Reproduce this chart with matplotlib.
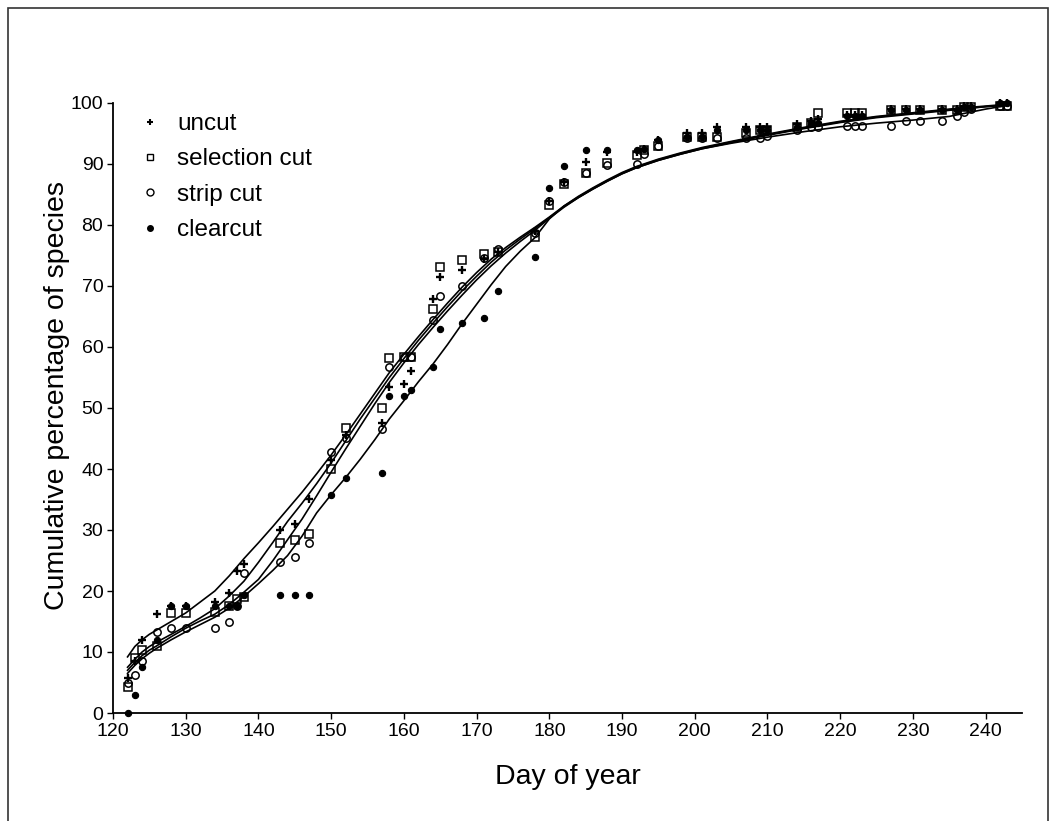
import matplotlib
matplotlib.use("Agg")
import matplotlib.pyplot as plt
from matplotlib.lines import Line2D
from matplotlib.patches import Rectangle

plt.rcParams['font.family'] = ['Liberation Sans', 'DejaVu Sans']

# ---------------- data ----------------
days = [122, 123, 124, 126, 128, 130, 134, 136, 137, 138, 143, 145, 147, 150, 152,
        157, 158, 160, 161, 164, 165, 168, 171, 173, 178, 180, 182, 185, 188, 192,
        193, 195, 199, 201, 203, 207, 209, 210, 214, 216, 217, 221, 222, 223, 227,
        229, 231, 234, 236, 237, 238, 242, 243]

uncut = [5.8, 8.5, 12.0, 16.2, 17.6, 17.6, 18.2, 19.6, 23.2, 24.4, 30.0, 31.0, 35.0, 41.5, 45.5,
         47.6, 53.4, 54.0, 56.0, 67.8, 71.4, 72.7, 74.5, 75.5, 79.0, 84.0, 87.0, 90.4, 92.0, 92.0,
         92.5, 94.0, 95.0, 95.0, 96.0, 96.0, 96.0, 96.0, 96.5, 97.0, 97.3, 98.0, 98.0, 98.0, 99.0,
         99.0, 99.0, 99.0, 99.0, 99.5, 99.5, 100.0, 100.0]

selection = [4.3, 9.0, 10.3, 11.0, 16.4, 16.4, 16.5, 17.5, 18.7, 19.0, 27.8, 28.4, 29.3, 40.0, 46.7,
             50.0, 58.2, 58.3, 58.3, 66.2, 73.1, 74.3, 75.2, 75.5, 78.0, 83.2, 86.7, 88.5, 90.2, 91.5,
             92.3, 93.0, 94.5, 94.5, 94.5, 95.0, 95.6, 95.6, 96.1, 96.7, 98.3, 98.3, 98.3, 98.3, 98.9,
             98.9, 98.9, 98.9, 98.9, 99.4, 99.4, 99.5, 99.5]

strip = [5.0, 6.3, 8.5, 13.3, 14.0, 14.0, 14.0, 14.9, 17.5, 23.0, 24.8, 25.6, 27.9, 42.8, 45.0,
         46.6, 56.7, 58.3, 58.3, 64.4, 68.3, 70.0, 74.6, 76.0, 78.7, 84.0, 87.0, 88.5, 89.8, 90.0,
         91.7, 93.0, 94.3, 94.3, 94.3, 94.3, 94.3, 94.6, 95.5, 96.0, 96.0, 96.3, 96.3, 96.3, 96.3,
         97.0, 97.0, 97.0, 97.8, 98.5, 99.0, 99.5, 99.5]

clearcut = [0.0, 3.0, 7.6, 12.0, 17.5, 17.5, 17.5, 17.5, 17.5, 19.3, 19.3, 19.3, 19.3, 35.8, 38.5,
            39.3, 52.0, 52.0, 53.0, 56.7, 62.9, 64.0, 64.7, 69.2, 74.7, 86.0, 89.6, 92.3, 92.3, 92.3,
            92.5, 94.0, 94.5, 94.5, 95.6, 95.6, 95.6, 95.6, 96.1, 96.7, 96.7, 97.8, 97.8, 97.8, 98.9,
            98.9, 98.9, 98.9, 98.9, 99.4, 99.4, 100.0, 100.0]

# fitted curves
fit_days = [122, 123, 124, 125, 126, 128, 130, 132, 134, 136, 138, 140, 142, 144, 146, 148,
            150, 152, 154, 156, 158, 160, 162, 164, 166, 168, 170, 172, 174, 176, 178, 180,
            182, 184, 186, 188, 190, 192, 195, 198, 201, 205, 210, 215, 220, 225, 230, 235,
            240, 243]

fit_uncut = [9.2, 10.9, 12.0, 12.9, 13.6, 15.0, 16.4, 18.2, 20.0, 22.5, 25.3, 27.9, 30.6, 33.4,
             36.2, 39.2, 42.3, 45.6, 49.0, 52.4, 55.8, 58.8, 61.7, 64.5, 67.2, 69.8, 72.2, 74.4,
             76.3, 78.0, 79.6, 81.3, 83.1, 84.6, 86.0, 87.3, 88.5, 89.5, 90.7, 91.7, 92.6, 93.6,
             94.8, 95.9, 96.9, 97.7, 98.3, 98.9, 99.4, 99.7]

fit_selection = [7.5, 8.8, 10.0, 10.9, 11.6, 12.9, 14.2, 15.6, 17.1, 19.2, 21.6, 24.7, 28.0,
                 31.4, 34.4, 37.6, 41.0, 44.6, 48.2, 51.6, 55.0, 58.1, 61.1, 63.9, 66.6, 69.2,
                 71.6, 73.9, 75.9, 77.7, 79.4, 81.2, 83.0, 84.5, 85.9, 87.2, 88.4, 89.4, 90.6,
                 91.6, 92.5, 93.5, 94.7, 95.8, 96.8, 97.6, 98.2, 98.8, 99.4, 99.7]

fit_strip = [7.0, 8.3, 9.4, 10.3, 11.0, 12.5, 13.9, 15.1, 16.2, 17.8, 19.8, 21.9, 25.0, 28.4,
             31.8, 35.6, 39.5, 43.3, 47.0, 50.7, 54.2, 57.4, 60.4, 63.2, 65.9, 68.5, 71.0, 73.3,
             75.4, 77.3, 79.1, 81.1, 82.9, 84.5, 85.9, 87.2, 88.4, 89.4, 90.6, 91.6, 92.5, 93.4,
             94.4, 95.3, 96.1, 96.7, 97.2, 97.8, 99.0, 99.6]

fit_clearcut = [6.5, 7.8, 8.9, 9.8, 10.6, 12.0, 13.3, 14.5, 15.7, 17.2, 19.1, 21.2, 23.4, 25.8,
                29.0, 32.8, 35.8, 38.6, 41.6, 44.8, 48.2, 51.2, 54.3, 57.2, 60.4, 63.8, 67.0,
                70.2, 73.2, 75.7, 77.9, 81.0, 83.1, 84.7, 86.1, 87.4, 88.6, 89.6, 90.8, 91.8,
                92.7, 93.7, 94.9, 96.0, 97.0, 97.8, 98.4, 99.0, 99.5, 99.8]

labels = ["uncut", "selection cut", "strip cut", "clearcut"]

# ---------------- figure ----------------
W, H = 1056, 821
fig = plt.figure(figsize=(W / 100, H / 100), dpi=100)
ax = fig.add_axes([113 / W, 1 - 713 / H, (1022 - 113) / W, (713 - 103) / H])

lw = 1.2
for fy in (fit_uncut, fit_selection, fit_strip, fit_clearcut):
    ax.plot(fit_days, fy, color='black', lw=lw, zorder=2)

ax.plot(days, uncut, ls='none', marker='+', ms=5.5, mew=1.7, color='black', clip_on=False, zorder=3)
ax.plot(days, selection, ls='none', marker='s', ms=5.3, mew=1.1, mfc='none', mec='black', clip_on=False, zorder=3)
ax.plot(days, strip, ls='none', marker='o', ms=5.3, mew=1.1, mfc='none', mec='black', clip_on=False, zorder=3)
ax.plot(days, clearcut, ls='none', marker='o', ms=4.5, mew=0.8, mfc='black', mec='black', clip_on=False, zorder=3)

ax.set_xlim(120, 245)
ax.set_ylim(0, 100)
ax.set_xticks(range(120, 241, 10))
ax.set_yticks(range(0, 101, 10))
for s in ('top', 'right'):
    ax.spines[s].set_visible(False)
for s in ('left', 'bottom'):
    ax.spines[s].set_linewidth(1.3)
ax.tick_params(direction='out', length=4, width=1.0, labelsize=14, pad=3)

ax.set_xlabel("Day of year", fontsize=20.5)
ax.xaxis.set_label_coords(0.5, (713 - 777) / 610)
ax.xaxis.label.set_va('center')
ax.set_ylabel("Cumulative percentage of species", fontsize=20.5)
ax.yaxis.set_label_coords((57 - 113) / 909, (713 - 395) / 610)
ax.yaxis.label.set_va('center')

handles = [
    Line2D([], [], ls='none', marker='+', ms=5, mew=1.5, color='black'),
    Line2D([], [], ls='none', marker='s', ms=5, mew=1.0, mfc='none', mec='black'),
    Line2D([], [], ls='none', marker='o', ms=5, mew=1.0, mfc='none', mec='black'),
    Line2D([], [], ls='none', marker='o', ms=4, mfc='black', mec='black'),
]
ax.legend(handles, labels, loc='upper left', frameon=False, fontsize=17.5,
          handlelength=1.0, handletextpad=0.6, labelspacing=0.55, borderpad=0,
          borderaxespad=0, bbox_to_anchor=(138 / W, 1 - 113 / H),
          bbox_transform=fig.transFigure)

# scanned page frame
fig.add_artist(Rectangle((8 / W, -0.02), 1040 / W, (H - 8) / H + 0.02,
                         transform=fig.transFigure, fill=False, lw=1.2,
                         edgecolor='#333333'))

fig.savefig("out.png", dpi=100)
